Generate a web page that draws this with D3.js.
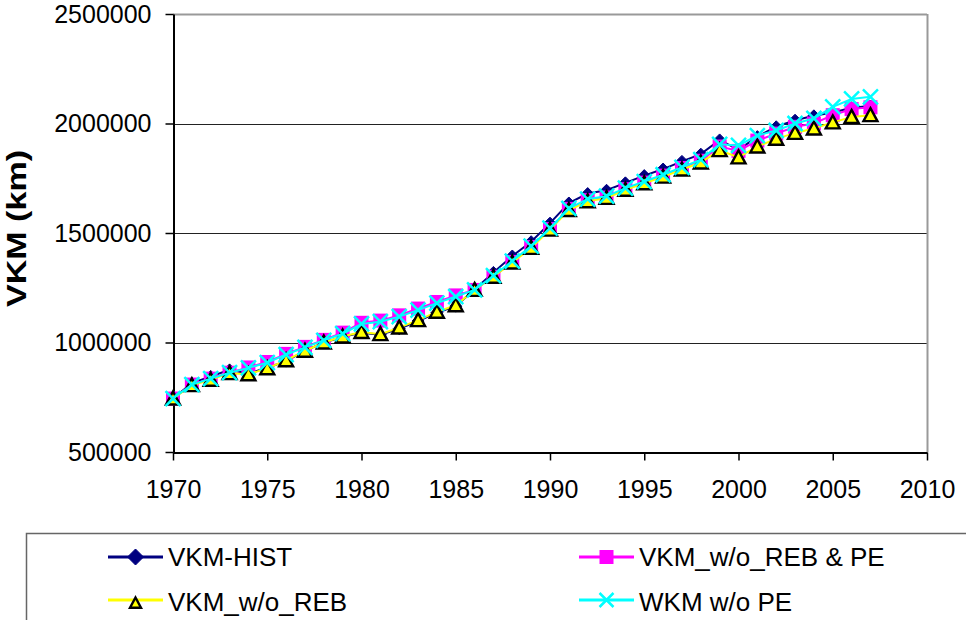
<!DOCTYPE html>
<html>
<head>
<meta charset="utf-8">
<script src="https://cdn.jsdelivr.net/npm/d3@7/dist/d3.min.js"></script>
<style>
	body { margin: 0; background: #fff; }
	svg { display: block; font-family: Arial, "Liberation Sans", sans-serif; }
</style>
</head>
<body>
<div id="chart"></div>
<script>
// data (values in km)
const years = d3.range(1970, 2008);

const vkm_hist = [744000, 815000, 845000, 875000, 858000, 885000, 915000, 962000, 1000000, 1025000,
	1045000, 1035000, 1063000, 1098000, 1136000, 1166000, 1242000, 1320000, 1395000, 1460000,
	1545000, 1637000, 1680000, 1695000, 1729000, 1762000, 1792000, 1827000, 1860000, 1925000,
	1880000, 1940000, 1985000, 2015000, 2035000, 2050000, 2072000, 2080000];

const vkm_reb_pe = [744000, 808000, 835000, 862000, 886000, 911000, 948000, 980000, 1012000, 1045000,
	1090000, 1100000, 1124000, 1155000, 1185000, 1215000, 1240000, 1300000, 1368000, 1436000,
	1518000, 1610000, 1650000, 1662000, 1700000, 1730000, 1762000, 1797000, 1830000, 1895000,
	1875000, 1922000, 1954000, 1985000, 2000000, 2038000, 2066000, 2074000];

const vkm_reb = [744000, 805000, 830000, 860000, 855000, 882000, 919000, 962000, 1000000, 1027000,
	1048000, 1038000, 1068000, 1102000, 1140000, 1170000, 1240000, 1300000, 1365000, 1432000,
	1515000, 1605000, 1645000, 1660000, 1697000, 1727000, 1757000, 1790000, 1822000, 1878000,
	1845000, 1895000, 1930000, 1957000, 1977000, 2005000, 2030000, 2038000];

const wkm_pe = [744000, 808000, 835000, 862000, 884000, 908000, 945000, 978000, 1010000, 1040000,
	1085000, 1095000, 1118000, 1148000, 1180000, 1210000, 1240000, 1305000, 1372000, 1440000,
	1522000, 1612000, 1655000, 1668000, 1705000, 1735000, 1766000, 1800000, 1835000, 1905000,
	1900000, 1945000, 1968000, 2000000, 2023000, 2076000, 2112000, 2122000];

const x_ticks = [1970, 1975, 1980, 1985, 1990, 1995, 2000, 2005, 2010];
const y_ticks = [500000, 1000000, 1500000, 2000000, 2500000];

const series = [
	{ name: "VKM-HIST", values: vkm_hist, color: "#000080", marker: "diamond" },
	{ name: "VKM_w/o_REB & PE", values: vkm_reb_pe, color: "#ff00ff", marker: "square" },
	{ name: "VKM_w/o_REB", values: vkm_reb, color: "#ffff00", marker: "triangle" },
	{ name: "WKM w/o PE", values: wkm_pe, color: "#00ffff", marker: "cross" }
];

const W = 966, H = 620;
const plot = { left: 173, right: 927, top: 14, bottom: 452 };

const svg = d3.select("#chart").append("svg")
	.attr("width", W)
	.attr("height", H);

const x = d3.scaleLinear().domain([1970, 2010]).range([plot.left, plot.right]);
const y = d3.scaleLinear().domain([500000, 2500000]).range([plot.bottom, plot.top]);

// gridlines
svg.append("g")
	.selectAll("line")
	.data(y_ticks.slice(1, -1))
	.enter()
	.append("line")
	.attr("x1", plot.left).attr("x2", plot.right)
	.attr("y1", d => Math.round(y(d)) + 0.5).attr("y2", d => Math.round(y(d)) + 0.5)
	.attr("stroke", "#222");

// plot frame (top and right are grey)
svg.append("line")
	.attr("x1", plot.left).attr("x2", plot.right)
	.attr("y1", plot.top + 0.5).attr("y2", plot.top + 0.5)
	.attr("stroke", "#999").attr("stroke-width", 2);
svg.append("line")
	.attr("x1", plot.right + 0.5).attr("x2", plot.right + 0.5)
	.attr("y1", plot.top).attr("y2", plot.bottom)
	.attr("stroke", "#999").attr("stroke-width", 2);

// axes
const xAxis = svg.append("g")
	.attr("transform", "translate(0," + (plot.bottom + 0.5) + ")")
	.call(d3.axisBottom(x).tickValues(x_ticks).tickFormat(d3.format("d")).tickSizeInner(8).tickSizeOuter(0).tickPadding(20));
const yAxis = svg.append("g")
	.attr("transform", "translate(" + (plot.left + 0.5) + ",0)")
	.call(d3.axisLeft(y).tickValues(y_ticks).tickFormat(d3.format("d")).tickSizeInner(8).tickSizeOuter(0).tickPadding(14));

[xAxis, yAxis].forEach(function (a) {
	a.selectAll("path").attr("stroke", "#000").attr("stroke-width", 2);
	a.selectAll("line").attr("stroke", "#000").attr("stroke-width", 1.5);
	a.selectAll("text").attr("fill", "#000").style("font-size", "25px").style("font-family", "Arial, 'Liberation Sans', sans-serif");
});

// axis title
svg.append("text")
	.attr("transform", "translate(26," + 228.5 + ") rotate(-90)")
	.attr("text-anchor", "middle")
	.attr("textLength", 157)
	.attr("lengthAdjust", "spacingAndGlyphs")
	.style("font-size", "28px")
	.style("font-weight", "bold")
	.text("VKM (km)");

// markers
function drawMarker(g, type, color, s) {
	if (type === "diamond") {
		g.append("path")
			.attr("d", `M0,${-s}L${s},0L0,${s}L${-s},0Z`)
			.attr("fill", color).attr("stroke", color);
	} else if (type === "square") {
		g.append("rect")
			.attr("x", -s).attr("y", -s).attr("width", 2 * s).attr("height", 2 * s)
			.attr("fill", color);
	} else if (type === "triangle") {
		g.append("path")
			.attr("d", `M0,${-s}L${s},${s * 0.85}L${-s},${s * 0.85}Z`)
			.attr("fill", color).attr("stroke", "#000").attr("stroke-width", 2.4)
			.attr("stroke-linejoin", "miter");
	} else {
		g.append("path")
			.attr("d", `M${-s},${-s}L${s},${s}M${-s},${s}L${s},${-s}`)
			.attr("stroke", color).attr("stroke-width", 2.5).attr("fill", "none");
	}
}

const sizes = { diamond: 6, square: 7, triangle: 7, cross: 7.5 };

const line = d3.line()
	.x((d, i) => x(years[i]))
	.y(d => y(d));

series.forEach(function (s) {
	const g = svg.append("g");
	g.append("path")
		.datum(s.values)
		.attr("d", line)
		.attr("fill", "none")
		.attr("stroke", s.color)
		.attr("stroke-width", 2);
	g.selectAll("g.mk")
		.data(s.values)
		.enter()
		.append("g")
		.attr("class", "mk")
		.attr("transform", (d, i) => "translate(" + x(years[i]) + "," + y(d) + ")")
		.each(function () {
			drawMarker(d3.select(this), s.marker, s.color, sizes[s.marker]);
		});
});

// legend
const legend = svg.append("g");
legend.append("rect")
	.attr("x", 26.5).attr("y", 533.5)
	.attr("width", 1000).attr("height", 200)
	.attr("fill", "none").attr("stroke", "#666").attr("stroke-width", 1.5);

const legendPos = [
	{ x: 108, y: 557, textY: 566, markY: 0 },
	{ x: 579, y: 557, textY: 566, markY: 0 },
	{ x: 108, y: 600, textY: 611, markY: 3 },
	{ x: 579, y: 600, textY: 611, markY: 0 }
];
const legendSizes = { diamond: 8, square: 7, triangle: 5.5, cross: 7 };

series.forEach(function (s, i) {
	const p = legendPos[i];
	const item = legend.append("g").attr("transform", "translate(" + p.x + "," + p.y + ")");
	item.append("line")
		.attr("x1", 0).attr("x2", 55)
		.attr("stroke", s.color).attr("stroke-width", 3);
	const m = item.append("g").attr("transform", "translate(27.5," + p.markY + ")");
	drawMarker(m, s.marker, s.color, legendSizes[s.marker]);
	item.append("text")
		.attr("x", 60)
		.attr("y", p.textY - p.y)
		.style("font-size", "26px")
		.text(s.name);
});
</script>
</body>
</html>
